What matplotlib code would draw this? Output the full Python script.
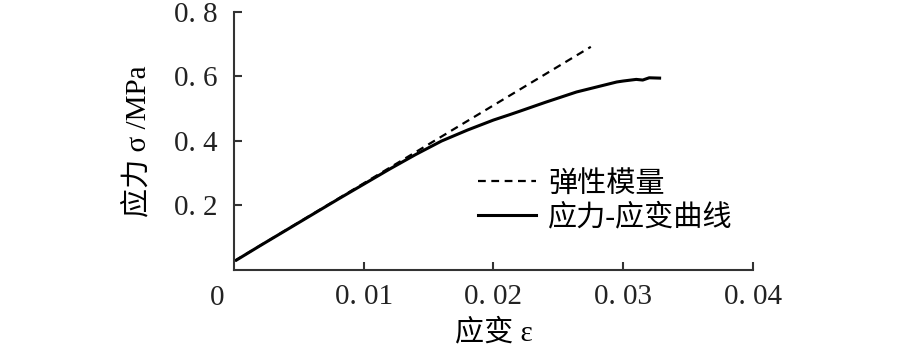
import matplotlib
matplotlib.use('Agg')
import matplotlib.pyplot as plt

plt.rcParams['font.family'] = ['Liberation Serif', 'Noto Sans CJK SC']

# stress-strain curve
strain = [0.0002, 0.002, 0.004, 0.006, 0.008, 0.010, 0.012, 0.014, 0.016,
          0.018, 0.020, 0.0212, 0.022, 0.024, 0.0264, 0.028, 0.0295, 0.030,
          0.031, 0.0315, 0.032, 0.0328]
stress = [0.031, 0.075, 0.123, 0.171, 0.219, 0.266, 0.313, 0.358, 0.400,
          0.434, 0.465, 0.481, 0.492, 0.520, 0.552, 0.568, 0.583, 0.586,
          0.591, 0.589, 0.596, 0.595]

# elastic modulus line
mod_strain = [0.0, 0.0275]
mod_stress = [0.027, 0.692]

xticks = [0.01, 0.02, 0.03, 0.04]
xlabels = ['0. 01', '0. 02', '0. 03', '0. 04']
yticks = [0.2, 0.4, 0.6, 0.8]
ylabels = ['0. 2', '0. 4', '0. 6', '0. 8']

fig = plt.figure(figsize=(9.1, 3.57), dpi=100)
ax = fig.add_axes([0.2571, 0.2437, 0.5704, 0.7227])

ax.plot(mod_strain, mod_stress, color='black', lw=1.6, ls=(0, (3.5, 2.5)), label='弹性模量')
ax.plot(strain, stress, color='black', lw=2.2, label='应力-应变曲线')

ax.set_xlim(0, 0.04)
ax.set_ylim(0, 0.8)
ax.set_xticks(xticks)
ax.set_xticklabels(xlabels)
ax.set_yticks(yticks)
ax.set_yticklabels(ylabels)

for s in ['top', 'right']:
    ax.spines[s].set_visible(False)
for s in ['left', 'bottom']:
    ax.spines[s].set_color('#333333')
    ax.spines[s].set_linewidth(1.5)

ax.tick_params(axis='both', direction='in', length=6, width=1.5, color='#333333',
               labelsize=21, labelcolor='#222222')
ax.tick_params(axis='y', pad=12)
ax.tick_params(axis='x', pad=10)

ax.text(-0.033, -0.06, '0', transform=ax.transAxes, fontsize=21, color='#222222',
        ha='center', va='top')

ax.set_xlabel('应变 ε', fontsize=21, labelpad=6)
ax.set_ylabel('应力 σ /MPa', fontsize=21, labelpad=16)

ax.legend(loc='upper left', bbox_to_anchor=(0.47, 0.385), frameon=False, fontsize=21,
          handlelength=2.0, handletextpad=0.4, labelspacing=0.2, borderaxespad=0,
          borderpad=0)

fig.savefig('out.png', dpi=100)
